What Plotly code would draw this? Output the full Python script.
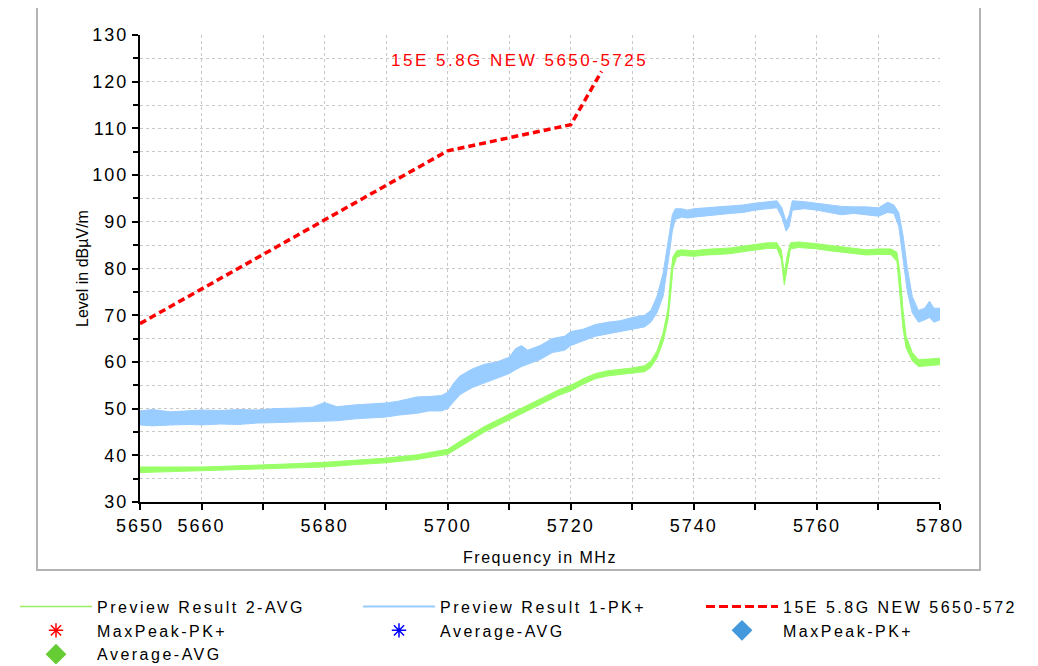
import plotly.graph_objects as go

# frequency axis (MHz) and readings (dBuV/m)
pk_freq = [5650, 5652, 5655, 5658, 5660, 5663, 5666, 5669, 5672, 5675, 5678, 5680, 5682, 5685,
           5688, 5690, 5692, 5695, 5697, 5699, 5700, 5701, 5702, 5704, 5706, 5708, 5710, 5711,
           5712, 5713, 5715, 5717, 5719, 5720, 5722, 5724, 5726, 5728, 5730, 5732, 5733, 5734,
           5735, 5735.5, 5736, 5736.5, 5737, 5738, 5739, 5740, 5742, 5744, 5746, 5748, 5750,
           5752, 5753.5, 5754.3, 5755, 5755.5, 5756, 5758, 5760, 5762, 5764, 5766, 5768, 5770,
           5771.5, 5772.5, 5773.3, 5774, 5774.7, 5775.5, 5776.5, 5777.5, 5778.3, 5779, 5780]
pk_low = [46.5, 46.3, 46.5, 46.6, 46.5, 46.7, 46.6, 46.9, 47.0, 47.1, 47.2, 47.2, 47.4, 47.8,
          48.0, 48.2, 48.6, 49.0, 49.5, 49.5, 50.0, 51.5, 53.0, 54.5, 55.5, 56.5, 57.5, 58.3,
          59.0, 59.5, 60.5, 62.0, 62.5, 63.5, 64.5, 65.5, 66.0, 66.5, 67.0, 67.5, 68.5, 70.5,
          74.0, 78.0, 83.0, 88.0, 90.5, 91.0, 90.8, 91.0, 91.3, 91.5, 91.8, 92.0, 92.5,
          92.8, 93.0, 91.0, 88.0, 89.0, 92.5, 92.8, 92.5, 92.0, 91.5, 91.8, 91.5, 91.2,
          92.0, 91.8, 89.0, 82.0, 75.0, 70.5, 68.5, 69.0, 69.5, 68.5, 69.0]
pk_high = [49.5, 49.8, 49.3, 49.5, 49.7, 49.6, 49.8, 49.7, 50.0, 50.1, 50.3, 51.3, 50.4, 50.8,
           51.0, 51.2, 51.6, 52.5, 52.6, 52.8, 53.5, 55.5, 57.0, 58.5, 59.5, 60.0, 61.0, 62.8,
           63.5, 62.5, 63.5, 65.0, 65.5, 66.5, 67.0, 68.0, 68.5, 68.8, 69.5, 70.0, 71.0, 74.0,
           79.0, 83.0, 88.0, 91.5, 92.8, 92.8, 92.5, 92.8, 93.0, 93.2, 93.3, 93.6, 94.0,
           94.3, 94.5, 93.0, 90.0, 91.5, 94.5, 94.3, 94.0, 93.6, 93.3, 93.2, 93.2, 93.0,
           94.2, 93.6, 92.0, 87.0, 80.0, 74.0, 71.0, 71.5, 73.0, 71.5, 71.5]

av_freq = [5650, 5655, 5660, 5665, 5670, 5675, 5680, 5685, 5690, 5695, 5698, 5700, 5702, 5704,
           5706, 5708, 5710, 5712, 5714, 5716, 5718, 5720, 5722, 5724, 5726, 5728, 5730, 5732,
           5733, 5734, 5735, 5735.8, 5736.2, 5736.6, 5737.2, 5738, 5740, 5742, 5744, 5746, 5748,
           5750, 5752, 5753.5, 5754.2, 5754.7, 5755.2, 5755.7, 5757, 5760, 5762, 5764, 5766,
           5768, 5770, 5772, 5773, 5773.5, 5774, 5774.5, 5775.5, 5776.5, 5778, 5780]
av_low = [36.3, 36.5, 36.6, 36.8, 37.0, 37.3, 37.5, 38.0, 38.4, 39.1, 39.8, 40.2, 41.8, 43.4,
          45.0, 46.3, 47.6, 49.0, 50.3, 51.6, 52.8, 53.8, 55.2, 56.4, 57.0, 57.3, 57.6, 57.9,
          58.8, 60.8, 64.3, 69.0, 74.0, 80.0, 82.4, 82.8, 82.6, 82.9, 83.0, 83.2, 83.6,
          84.0, 84.3, 84.3, 82.0, 76.5, 80.0, 84.2, 84.5, 84.2, 83.8, 83.5, 83.2,
          82.9, 83.0, 83.0, 81.5, 75.0, 67.0, 63.0, 60.2, 59.0, 59.2, 59.4]
av_high = [37.5, 37.5, 37.5, 37.7, 37.9, 38.2, 38.5, 38.9, 39.4, 40.1, 40.8, 41.3, 43.0, 44.6,
           46.2, 47.5, 48.8, 50.2, 51.5, 52.8, 54.0, 55.0, 56.4, 57.5, 58.1, 58.4, 58.7, 59.2,
           60.2, 62.3, 66.2, 71.5, 78.0, 82.5, 83.8, 84.0, 83.8, 84.1, 84.2, 84.4, 84.8,
           85.2, 85.5, 85.5, 84.0, 79.0, 83.0, 85.5, 85.7, 85.3, 85.0, 84.7, 84.4,
           84.0, 84.2, 84.2, 83.5, 79.0, 71.0, 65.5, 62.0, 60.5, 60.6, 60.8]

# FCC 15.407 band edge limit
limit_freq = [5650, 5700, 5720, 5725]
limit_level = [68.2, 105.2, 110.8, 122.2]

x_ticks = list(range(5650, 5790, 10))
x_labeled = [5650, 5660, 5680, 5700, 5720, 5740, 5760, 5780]
y_ticks = list(range(30, 140, 10))

GREEN = '#99ff66'
BLUE = '#99ccff'
FONT = 'Liberation Sans, Arial, sans-serif'


def spaced(s, px=2):
    return f"<span style='letter-spacing:{px}px'>{s}</span>"


fig = go.Figure()

# legend entries (no data), laid out in three columns like the original
legend_items = [
    ('Preview Result 2-AVG', 'legend', dict(mode='lines', line=dict(color='#99ee66', width=1.5))),
    ('MaxPeak-PK+', 'legend', dict(mode='markers', marker=dict(symbol='asterisk-open', size=12, color='#ff0000',
                                                                line=dict(color='#ff0000', width=1.5)))),
    ('Average-AVG', 'legend', dict(mode='markers', marker=dict(symbol='diamond', size=17, color='#66cc33'))),
    ('Preview Result 1-PK+', 'legend2', dict(mode='lines', line=dict(color=BLUE, width=2))),
    ('Average-AVG', 'legend2', dict(mode='markers', marker=dict(symbol='asterisk-open', size=12, color='#0000ff',
                                                                 line=dict(color='#0000ff', width=1.5)))),
    ('15E 5.8G NEW 5650-572', 'legend3', dict(mode='lines', line=dict(color='#ff0000', width=3, dash='9px,4px'))),
    ('MaxPeak-PK+', 'legend3', dict(mode='markers', marker=dict(symbol='diamond', size=17, color='#4499dd'))),
]
for name, leg, style in legend_items:
    fig.add_trace(go.Scatter(x=[None], y=[None], name=spaced(name, 2.5), legend=leg,
                             showlegend=True, **style))

# peak trace band
fig.add_trace(go.Scatter(x=pk_freq, y=pk_low, mode='lines', line=dict(color=BLUE, width=1),
                         showlegend=False, hoverinfo='skip'))
fig.add_trace(go.Scatter(x=pk_freq, y=pk_high, mode='lines', line=dict(color=BLUE, width=1),
                         fill='tonexty', fillcolor=BLUE, showlegend=False, hoverinfo='skip'))
# average trace band
fig.add_trace(go.Scatter(x=av_freq, y=av_low, mode='lines', line=dict(color=GREEN, width=1),
                         showlegend=False, hoverinfo='skip'))
fig.add_trace(go.Scatter(x=av_freq, y=av_high, mode='lines', line=dict(color=GREEN, width=1),
                         fill='tonexty', fillcolor=GREEN, showlegend=False, hoverinfo='skip'))
# limit line
fig.add_trace(go.Scatter(x=limit_freq, y=limit_level, mode='lines',
                         line=dict(color='#ff0000', width=3.5, dash='7px,4px'), showlegend=False))

fig.add_annotation(x=5711.7, y=124.6, text=spaced('15E 5.8G NEW 5650-5725', 2.5), showarrow=False,
                   font=dict(family=FONT, size=17, color='#ff0000'))

# outer frame
fig.add_shape(type='rect', xref='paper', yref='paper', x0=-0.12875, x1=1.05, y0=-0.1456, y1=1.0642,
              line=dict(color='#b4b4b4', width=2), layer='below')

grid = dict(showgrid=True, gridcolor='#c8c8c8', griddash='dot', gridwidth=1)
leg_common = dict(orientation='v', xref='paper', yref='container', y=0.116,
                  xanchor='left', yanchor='top', itemwidth=72, traceorder='normal',
                  font=dict(size=16), tracegroupgap=0, bgcolor='rgba(0,0,0,0)')

# page body has an 8px margin, so the figure is sized/offset to match
fig.update_layout(
    width=1030, height=658,
    margin=dict(l=132, r=98, t=27, b=164),
    plot_bgcolor='white', paper_bgcolor='white',
    font=dict(family=FONT, size=16, color='black'),
    xaxis=dict(range=[5650, 5780], tickmode='array', tickvals=x_ticks,
               ticktext=[spaced(str(v), 2) if v in x_labeled else '' for v in x_ticks],
               ticks='outside', ticklen=6, tickwidth=1.5, tickcolor='black',
               showline=True, linecolor='black', linewidth=2, zeroline=False,
               tickfont=dict(size=18),
               title=dict(text=spaced('Frequency in MHz', 1.5), font=dict(size=16), standoff=17),
               **grid),
    yaxis=dict(range=[30, 130], tickmode='array', tickvals=y_ticks,
               ticktext=[spaced(str(v), 2) for v in y_ticks],
               ticks='outside', ticklen=6, tickwidth=1.5, tickcolor='black',
               showline=True, linecolor='black', linewidth=2, zeroline=False,
               tickfont=dict(size=18),
               minor=dict(dtick=5, ticks='outside', ticklen=5, tickcolor='black', showgrid=True,
                          gridcolor='#c8c8c8', griddash='dot'),
               title=dict(text='Level in dBµV/m', font=dict(size=16), standoff=0),
               **grid),
    legend=dict(x=-0.15625, **leg_common),
    legend2=dict(x=0.2725, **leg_common),
    legend3=dict(x=0.70125, **leg_common),
)

fig.write_html("out.html")
